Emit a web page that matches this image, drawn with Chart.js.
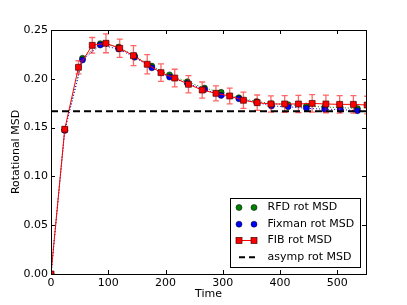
<!DOCTYPE html>
<html>
<head>
<meta charset="utf-8">
<script src="https://cdn.jsdelivr.net/npm/chart.js@4.4.0/dist/chart.umd.min.js"></script>
<style>
  html, body { margin: 0; padding: 0; background: #fff; }
</style>
</head>
<body>
<canvas id="chart" width="407" height="305"></canvas>
<script>
// FIB rotational MSD (red squares with error bars)
const fibTime = [0, 24, 48, 72, 96, 120, 144, 168, 192, 216, 240, 264, 288, 312, 336, 360, 384, 408, 432, 456, 480, 504, 528, 552];
const fibMsd = [0, 0.1483, 0.2118, 0.2343, 0.2364, 0.2313, 0.2237, 0.2149, 0.2063, 0.2008, 0.1944, 0.1885, 0.1851, 0.1824, 0.1780, 0.1755, 0.1742, 0.1742, 0.1742, 0.1748, 0.1742, 0.1738, 0.1738, 0.1731];
const fibErr = [0, 0.002, 0.0067, 0.008, 0.0097, 0.0094, 0.0102, 0.0099, 0.009, 0.009, 0.0089, 0.0082, 0.0077, 0.008, 0.0084, 0.0079, 0.0084, 0.0086, 0.0088, 0.009, 0.009, 0.009, 0.009, 0.009];

// Fixman and RFD share their sample times
const sampleTime = [0, 24, 55, 86, 118, 146, 176, 207, 238, 268, 297, 328, 359, 385, 414, 446, 478, 505, 535];
const fixmanMsd = [0, 0.147, 0.2193, 0.2346, 0.2305, 0.2220, 0.2112, 0.2018, 0.1955, 0.1890, 0.1830, 0.1795, 0.1758, 0.1721, 0.1714, 0.1698, 0.1688, 0.1685, 0.1673];
const rfdMsd = [0, 0.148, 0.2210, 0.2360, 0.2325, 0.2235, 0.2130, 0.2040, 0.1970, 0.1905, 0.1862, 0.1806, 0.1768, 0.1745, 0.1735, 0.1720, 0.1710, 0.1705, 0.1695];

const asympTime = [0, 550];
const asympMsd = [0.1667, 0.1667];

const xTicks = [0, 100, 200, 300, 400, 500];
const yTicks = [0, 0.05, 0.10, 0.15, 0.20, 0.25];

const FONT = '"DejaVu Sans", sans-serif';

function pts(xs, ys) {
    return xs.map((x, i) => ({ x, y: ys[i] }));
}

// error bars for the FIB series, drawn just under its markers
const errorBars = {
    id: "errorBars",
    beforeDatasetDraw(chart, args) {
        if (args.index !== 1) return;
        const { ctx, chartArea, scales } = chart;
        ctx.save();
        ctx.beginPath();
        ctx.rect(chartArea.left, chartArea.top, chartArea.right - chartArea.left, chartArea.bottom - chartArea.top);
        ctx.clip();
        ctx.strokeStyle = "rgba(255,0,0,0.6)";
        ctx.lineWidth = 1.3;
        fibTime.forEach((t, i) => {
            if (!fibErr[i]) return;
            const x = scales.x.getPixelForValue(t);
            const y0 = scales.y.getPixelForValue(fibMsd[i] - fibErr[i]);
            const y1 = scales.y.getPixelForValue(fibMsd[i] + fibErr[i]);
            ctx.beginPath();
            ctx.moveTo(x, y0);
            ctx.lineTo(x, y1);
            ctx.moveTo(x - 3, y0);
            ctx.lineTo(x + 3, y0);
            ctx.moveTo(x - 3, y1);
            ctx.lineTo(x + 3, y1);
            ctx.stroke();
        });
        ctx.restore();
    },
};

// box around the axes with inward ticks on all four sides
const frame = {
    id: "frame",
    afterDatasetsDraw(chart) {
        const { ctx, chartArea: a, scales } = chart;
        ctx.save();
        ctx.strokeStyle = "#000";
        ctx.lineWidth = 1;
        ctx.strokeRect(Math.round(a.left) + 0.5, Math.round(a.top) + 0.5,
            Math.round(a.right - a.left), Math.round(a.bottom - a.top));
        ctx.beginPath();
        xTicks.forEach(v => {
            const x = Math.round(scales.x.getPixelForValue(v)) + 0.5;
            ctx.moveTo(x, a.bottom);
            ctx.lineTo(x, a.bottom - 4);
            ctx.moveTo(x, a.top);
            ctx.lineTo(x, a.top + 4);
        });
        yTicks.forEach(v => {
            const y = Math.round(scales.y.getPixelForValue(v)) + 0.5;
            ctx.moveTo(a.left, y);
            ctx.lineTo(a.left + 4, y);
            ctx.moveTo(a.right, y);
            ctx.lineTo(a.right - 4, y);
        });
        ctx.stroke();
        ctx.restore();
    },
};

function dot(ctx, x, y, color) {
    ctx.beginPath();
    ctx.arc(x, y, 3, 0, Math.PI * 2);
    ctx.fillStyle = color;
    ctx.fill();
    ctx.strokeStyle = "#000";
    ctx.lineWidth = 0.5;
    ctx.stroke();
}

function square(ctx, x, y) {
    ctx.fillStyle = "#f00";
    ctx.fillRect(x - 3, y - 3, 6, 6);
    ctx.strokeStyle = "#400";
    ctx.lineWidth = 0.7;
    ctx.strokeRect(x - 3, y - 3, 6, 6);
}

// matplotlib style legend: two markers per entry
const mplLegend = {
    id: "mplLegend",
    afterDraw(chart) {
        const { ctx, chartArea: a } = chart;
        const lx = Math.round(a.right) - 135.5, ly = Math.round(a.bottom) - 75.5;
        const m1 = lx + 8.5, m2 = lx + 23.5, tx = lx + 37;
        const rows = [ly + 9, ly + 25.7, ly + 42, ly + 58.7];
        ctx.save();
        ctx.fillStyle = "#fff";
        ctx.fillRect(lx, ly, 130, 69);
        ctx.strokeStyle = "#000";
        ctx.lineWidth = 1;
        ctx.strokeRect(lx, ly, 130, 69);

        dot(ctx, m1, rows[0], "#008000");
        dot(ctx, m2, rows[0], "#008000");
        dot(ctx, m1, rows[1], "#0000ff");
        dot(ctx, m2, rows[1], "#0000ff");

        ctx.strokeStyle = "#f00";
        ctx.lineWidth = 1;
        ctx.beginPath();
        ctx.moveTo(m1, rows[2]);
        ctx.lineTo(m2, rows[2]);
        ctx.stroke();
        square(ctx, m1, rows[2]);
        square(ctx, m2, rows[2]);

        ctx.strokeStyle = "#000";
        ctx.lineWidth = 2;
        ctx.beginPath();
        ctx.moveTo(m1, rows[3]);
        ctx.lineTo(m1 + 6, rows[3]);
        ctx.moveTo(m2 - 5, rows[3]);
        ctx.lineTo(m2 + 1, rows[3]);
        ctx.stroke();

        ctx.fillStyle = "#000";
        ctx.font = "11px " + FONT;
        ctx.textBaseline = "middle";
        ctx.textAlign = "left";
        ["RFD rot MSD", "Fixman rot MSD", "FIB rot MSD", "asymp rot MSD"].forEach((s, i) => {
            ctx.fillText(s, tx, rows[i]);
        });
        ctx.restore();
    },
};

new Chart(document.getElementById("chart"), {
    type: "line",
    data: {
        datasets: [
            {
                label: "asymp rot MSD",
                data: pts(asympTime, asympMsd),
                borderColor: "#000",
                borderWidth: 2,
                borderDash: [7, 4],
                pointRadius: 0,
            },
            {
                label: "FIB rot MSD",
                data: pts(fibTime, fibMsd),
                borderColor: "#f00",
                borderWidth: 1,
                pointStyle: "rect",
                pointRadius: 4.2,
                pointBackgroundColor: "#f00",
                pointBorderColor: "#400",
                pointBorderWidth: 0.7,
            },
            {
                label: "Fixman rot MSD",
                data: pts(sampleTime, fixmanMsd),
                borderColor: "#0000ff",
                borderWidth: 1,
                borderDash: [1, 2],
                pointRadius: 3,
                pointBackgroundColor: "#0000ff",
                pointBorderColor: "#000",
                pointBorderWidth: 0.5,
            },
            {
                label: "RFD rot MSD",
                data: pts(sampleTime, rfdMsd),
                borderColor: "#008000",
                borderWidth: 1,
                borderDash: [1, 2],
                pointRadius: 3,
                pointBackgroundColor: "#008000",
                pointBorderColor: "#000",
                pointBorderWidth: 0.5,
            },
        ],
    },
    options: {
        responsive: false,
        animation: false,
        devicePixelRatio: 1,
        events: [],
        layout: { padding: { left: 0, right: 41, top: 30, bottom: 0 } },
        elements: { line: { tension: 0 } },
        plugins: { legend: { display: false }, tooltip: { enabled: false } },
        scales: {
            x: {
                type: "linear",
                min: 0,
                max: 550,
                grid: { display: false, drawTicks: false },
                border: { display: false },
                ticks: { stepSize: 100, includeBounds: false, padding: 3, color: "#000", font: { family: FONT, size: 11 } },
                title: { display: true, text: "Time", color: "#000", padding: { top: 0, bottom: 4 }, font: { family: FONT, size: 11 } },
                afterFit(scale) { scale.height = 31; },
            },
            y: {
                min: 0,
                max: 0.25,
                grid: { display: false, drawTicks: false },
                border: { display: false },
                ticks: {
                    stepSize: 0.05,
                    padding: 3,
                    color: "#000",
                    font: { family: FONT, size: 11 },
                    callback: v => v.toFixed(2),
                },
                title: { display: true, text: "Rotational MSD", color: "#000", padding: { top: 10, bottom: 0 }, font: { family: FONT, size: 11 } },
                afterFit(scale) { scale.width = 51; },
            },
        },
    },
    plugins: [errorBars, frame, mplLegend],
});
</script>
</body>
</html>
